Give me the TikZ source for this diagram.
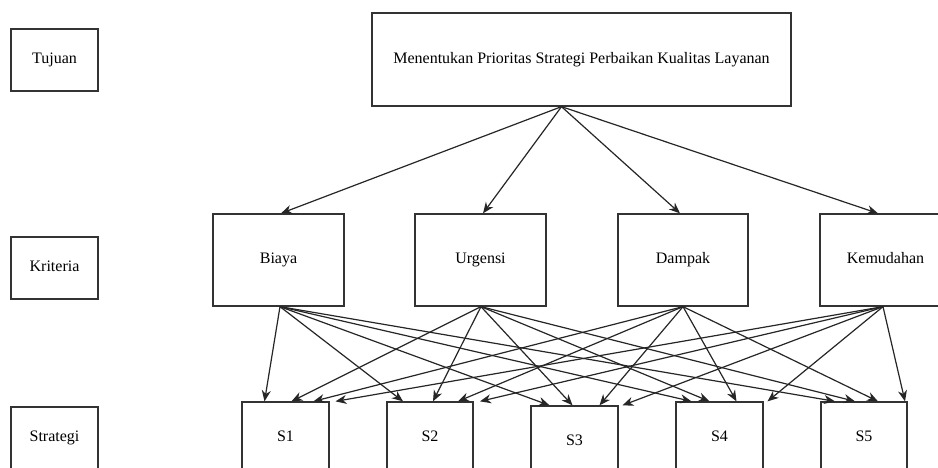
\documentclass[tikz,border=0pt]{standalone}
\usepackage{fontspec}
\setmainfont{Liberation Serif}
\usetikzlibrary{calc,arrows.meta}
\begin{document}
\begin{tikzpicture}[x=1pt,y=-1pt,
  box/.style={draw=black!80, line width=1.3pt, inner sep=0pt, text height=11pt, text depth=3.5pt, font=\fontsize{16}{19}\selectfont},
  arr/.style={-{Stealth[length=11pt,width=9pt,inset=3.5pt]}, line width=1.2pt, black!85}]
\clip (0,0) rectangle (938,468);
\fill[white] (0,0) rectangle (938,468);
% level labels
\node[box, minimum width=87, minimum height=62] (tuj) at (54.5,60) {Tujuan};
\node[box, minimum width=87, minimum height=62] (kri) at (54.5,268) {Kriteria};
\node[box, minimum width=87, minimum height=62] (str) at (54.5,438) {Strategi};
% goal
\node[box, minimum width=419, minimum height=93] (goal) at (581.5,59.5) {Menentukan Prioritas Strategi Perbaikan Kualitas Layanan};
% criteria
\node[box, minimum width=131, minimum height=92] (c1) at (278.5,260) {Biaya};
\node[box, minimum width=131, minimum height=92] (c2) at (480.5,260) {Urgensi};
\node[box, minimum width=130, minimum height=92] (c3) at (683,260) {Dampak};
\node[box, minimum width=131, minimum height=92] (c4) at (885.5,260) {Kemudahan};
% strategies
\node[box, minimum width=87, minimum height=72] (s1) at (285.5,438) {S1};
\node[box, minimum width=86, minimum height=72] (s2) at (430,438) {S2};
\node[box, minimum width=87, minimum height=72] (s3) at (574.5,442) {S3};
\node[box, minimum width=87, minimum height=72] (s4) at (719.5,438) {S4};
\node[box, minimum width=86, minimum height=72] (s5) at (864,438) {S5};
% goal -> criteria
\draw[arr] ($(goal.south)+(-20,0)$) -- ($(c1.north)+(2.5,0)$);
\draw[arr] ($(goal.south)+(-20,0)$) -- ($(c2.north)+(2.5,0)$);
\draw[arr] ($(goal.south)+(-20,0)$) -- ($(c3.north)+(-3,0)$);
\draw[arr] ($(goal.south)+(-20,0)$) -- ($(c4.north)+(-7.5,0)$);
% criteria -> strategies
\foreach \s/\a/\b/\c/\d in {s1/-21/6/28/50, s2/-27/3/28/50, s3/-25/-2/25/48, s4/-28/-10/17/48, s5/-29/-9/14/41}{
  \draw[arr] ($(c1.south)+(1.5,0)$) -- ($(\s.north)+(\a,0)$);
  \draw[arr] ($(c2.south)+(0.5,0)$) -- ($(\s.north)+(\b,0)$);
  \draw[arr] ($(c3.south)+(0,0)$) -- ($(\s.north)+(\c,0)$);
  \draw[arr] ($(c4.south)+(-2.5,0)$) -- ($(\s.north)+(\d,0)$);
}
\end{tikzpicture}
\end{document}
